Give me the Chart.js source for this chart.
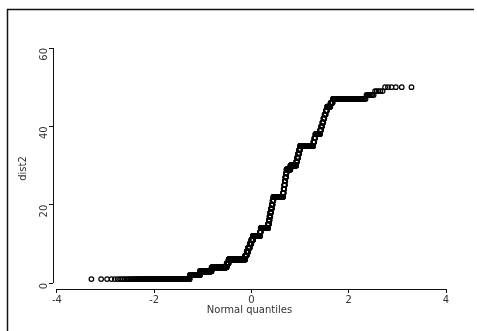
<!DOCTYPE html>
<html>
<head>
<meta charset="utf-8">
<script src="https://cdn.jsdelivr.net/npm/chart.js@4.4.1/dist/chart.umd.min.js"></script>
<style>
  html, body { margin: 0; padding: 0; background: #fff; }
  #wrap { width: 477px; height: 331px; position: relative; }
</style>
</head>
<body>
<div id="wrap"><canvas id="qq" width="477" height="331"></canvas></div>
<script>
// sorted values of dist2 and how many observations sit on each value
const levels = [1, 2, 3, 4, 5, 6, 7, 8, 9, 10, 11, 12, 13, 14, 15, 16, 17, 18, 19, 20,
  21, 22, 23, 24, 25, 26, 27, 28, 29, 30, 31, 32, 33, 34, 35, 36, 37, 38, 39, 40,
  41, 42, 43, 44, 45, 46, 47, 48, 49, 50];
const counts = [204, 85, 123, 198, 28, 259, 25, 25, 25, 26, 26, 116, 11, 116, 12, 11, 12, 11, 12, 11,
  12, 137, 7, 8, 7, 7, 8, 7, 48, 66, 10, 10, 10, 10, 114, 7, 7, 31, 6, 7,
  6, 6, 7, 6, 16, 10, 76, 7, 5, 6];
const xTicks = [-4, -2, 0, 2, 4];
const yTicks = [0, 20, 40, 60];

// inverse standard normal (Acklam)
function invNorm(p) {
  const a = [-3.969683028665376e+01, 2.209460984245205e+02, -2.759285104469687e+02, 1.383577518672690e+02, -3.066479806614716e+01, 2.506628277459239e+00];
  const b = [-5.447609879822406e+01, 1.615858368580409e+02, -1.556989798598866e+02, 6.680131188771972e+01, -1.328068155288572e+01];
  const c = [-7.784894002430293e-03, -3.223964580411365e-01, -2.400758277161838e+00, -2.549671010522209e+00, 4.374664141464968e+00, 2.938163982698783e+00];
  const d = [7.784695709041462e-03, 3.224671290700398e-01, 2.445134137142996e+00, 3.754408661907416e+00];
  const pl = 0.02425;
  let q, r;
  if (p < pl) {
    q = Math.sqrt(-2 * Math.log(p));
    return (((((c[0]*q+c[1])*q+c[2])*q+c[3])*q+c[4])*q+c[5]) / ((((d[0]*q+d[1])*q+d[2])*q+d[3])*q+1);
  }
  if (p > 1 - pl) {
    q = Math.sqrt(-2 * Math.log(1 - p));
    return -(((((c[0]*q+c[1])*q+c[2])*q+c[3])*q+c[4])*q+c[5]) / ((((d[0]*q+d[1])*q+d[2])*q+d[3])*q+1);
  }
  q = p - 0.5; r = q * q;
  return (((((a[0]*r+a[1])*r+a[2])*r+a[3])*r+a[4])*r+a[5])*q / (((((b[0]*r+b[1])*r+b[2])*r+b[3])*r+b[4])*r+1);
}

const sorted = [];
levels.forEach((v, i) => { for (let k = 0; k < counts[i]; k++) sorted.push(v); });
const n = sorted.length;
const points = sorted.map((v, i) => ({x: invNorm((i + 1) / (n + 1)), y: v}));

const txt = '#333';
const font = {family: "'DejaVu Sans', sans-serif", size: 10};

// stata style: detached axis lines + outer frame
const axisLines = {
  id: 'axisLines',
  afterDraw(chart) {
    const {ctx, scales: {x, y}, chartArea} = chart;
    ctx.save();
    ctx.strokeStyle = '#111';
    ctx.lineWidth = 1;
    ctx.beginPath();
    ctx.moveTo(chartArea.left + 0.5, y.getPixelForValue(0));
    ctx.lineTo(chartArea.left + 0.5, y.getPixelForValue(60));
    ctx.moveTo(x.getPixelForValue(-4), chartArea.bottom + 0.5);
    ctx.lineTo(x.getPixelForValue(4), chartArea.bottom + 0.5);
    ctx.stroke();
    ctx.lineWidth = 1.5;
    ctx.beginPath();
    ctx.moveTo(7.5, 331);
    ctx.lineTo(7.5, 9.5);
    ctx.lineTo(474, 9.5);
    ctx.stroke();
    ctx.restore();
  }
};

new Chart(document.getElementById('qq'), {
  type: 'scatter',
  data: {
    datasets: [{
      data: points,
      pointStyle: 'circle',
      pointRadius: 2.3,
      pointBorderWidth: 1.2,
      borderColor: '#000',
      backgroundColor: 'rgba(0,0,0,0)'
    }]
  },
  options: {
    responsive: false,
    animation: false,
    devicePixelRatio: 1,
    layout: {padding: {top: 48, right: 31, bottom: 0, left: 0}},
    plugins: {legend: {display: false}, tooltip: {enabled: false}},
    scales: {
      x: {
        type: 'linear',
        min: -4.08,
        max: 4,
        afterBuildTicks: s => { s.ticks = xTicks.map(v => ({value: v})); },
        afterFit: s => { s.height = 42; },
        border: {display: false},
        grid: {display: true, drawOnChartArea: false, drawTicks: true, tickLength: 4, color: '#111'},
        ticks: {color: txt, font: font, padding: 1, maxRotation: 0},
        title: {display: true, text: 'Normal quantiles', color: txt, font: font, padding: {top: 0, bottom: 15}}
      },
      y: {
        type: 'linear',
        min: -1.53,
        max: 60,
        afterBuildTicks: s => { s.ticks = yTicks.map(v => ({value: v})); },
        afterFit: s => { s.width = 53; },
        border: {display: false},
        grid: {display: true, drawOnChartArea: false, drawTicks: true, tickLength: 4, color: '#111'},
        ticks: {color: txt, font: font, padding: 5, minRotation: 90, maxRotation: 90},
        title: {display: true, text: 'dist2', color: txt, font: font, padding: {top: 17, bottom: 0}}
      }
    }
  },
  plugins: [axisLines]
});
</script>
</body>
</html>
